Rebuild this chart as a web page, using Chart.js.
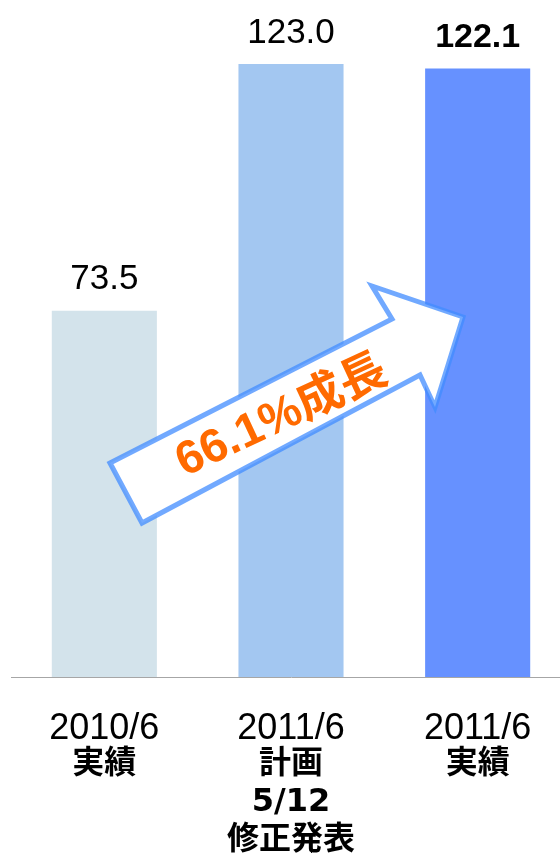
<!DOCTYPE html>
<html lang="ja">
<head>
<meta charset="utf-8" />
<title>成長</title>
<script src="https://cdn.jsdelivr.net/npm/chart.js@4.4.1/dist/chart.umd.min.js"></script>
<style>
  html, body { margin: 0; padding: 0; background: #fff; overflow: hidden; width: 560px; height: 864px; }
  #wrap { position: relative; width: 572px; height: 864px; }
</style>
</head>
<body>
<div id="wrap"><canvas id="chart"></canvas></div>
<script>
// data
const periods = ['2010/6', '2011/6', '2011/6'];
const subLabels = [['実績'], ['計画', '5/12', '修正発表'], ['実績']];
const values = [73.5, 123.0, 122.1];
const barColors = ['#d3e3eb', '#a3c7f1', '#6691ff'];
const growthText = '66.1%成長';

// value labels above each bar
const valueLabels = {
  id: 'valueLabels',
  afterDatasetsDraw(chart) {
    const ctx = chart.ctx;
    const meta = chart.getDatasetMeta(0);
    ctx.save();
    ctx.fillStyle = '#000';
    ctx.textAlign = 'center';
    ctx.textBaseline = 'middle';
    meta.data.forEach((bar, i) => {
      const bold = i === values.length - 1;
      ctx.font = bold ? 'bold 34px "Liberation Sans", Arial, sans-serif' : '35px "Liberation Sans", Arial, sans-serif';
      ctx.fillText(values[i].toFixed(1), bar.x, bar.y - 31);
    });
    ctx.restore();
  }
};

// the big "growth" arrow
const growthArrow = {
  id: 'growthArrow',
  afterDraw(chart) {
    const ctx = chart.ctx;
    const pts = [[110, 463], [392, 319], [372, 286], [463, 317], [435, 407], [420, 375], [142, 523]];
    ctx.save();
    ctx.beginPath();
    pts.forEach((p, i) => i ? ctx.lineTo(p[0], p[1]) : ctx.moveTo(p[0], p[1]));
    ctx.closePath();
    ctx.fillStyle = '#ffffff';
    ctx.fill();
    ctx.lineJoin = 'miter';
    ctx.lineWidth = 5;
    ctx.strokeStyle = 'rgba(66,140,255,0.75)';
    ctx.stroke();

    ctx.translate(282, 417);
    ctx.rotate(-25 * Math.PI / 180);
    ctx.fillStyle = '#ff6a00';
    ctx.font = 'bold 47px "Liberation Sans", "Noto Sans CJK JP", sans-serif';
    ctx.textAlign = 'center';
    ctx.textBaseline = 'middle';
    ctx.fillText(growthText, 0, 0);
    ctx.restore();
  }
};

new Chart(document.getElementById('chart'), {
  type: 'bar',
  data: {
    labels: periods,
    datasets: [{
      data: values,
      backgroundColor: barColors,
      borderWidth: 0,
      categoryPercentage: 1,
      barPercentage: 0.563
    }]
  },
  options: {
    responsive: true,
    maintainAspectRatio: false,
    animation: false,
    layout: { padding: { left: 11, right: 1, top: 29, bottom: 0 } },
    plugins: {
      legend: { display: false },
      tooltip: { enabled: false }
    },
    scales: {
      y: { display: false, min: 0, max: 130 },
      x: {
        weight: 0,
        grid: { display: false },
        border: { display: true, color: '#a6a6a6', width: 1 },
        ticks: {
          padding: 24,
          color: '#000',
          maxRotation: 0,
          autoSkip: false,
          font: { family: '"Liberation Sans", Arial, sans-serif', size: 36, lineHeight: 1.1 }
        },
        afterFit(scale) { scale.height = 66; }
      },
      x2: {
        type: 'category',
        position: 'bottom',
        weight: 1,
        offset: true,
        labels: subLabels,
        grid: { display: false },
        border: { display: false },
        ticks: {
          padding: -5,
          color: '#000',
          maxRotation: 0,
          autoSkip: false,
          font: { family: '"DejaVu Sans", "Noto Sans CJK JP", sans-serif', size: 32, weight: 'bold', lineHeight: 1.18 }
        },
        afterFit(scale) { scale.height = 121; }
      }
    }
  },
  plugins: [valueLabels, growthArrow]
});
</script>
</body>
</html>
